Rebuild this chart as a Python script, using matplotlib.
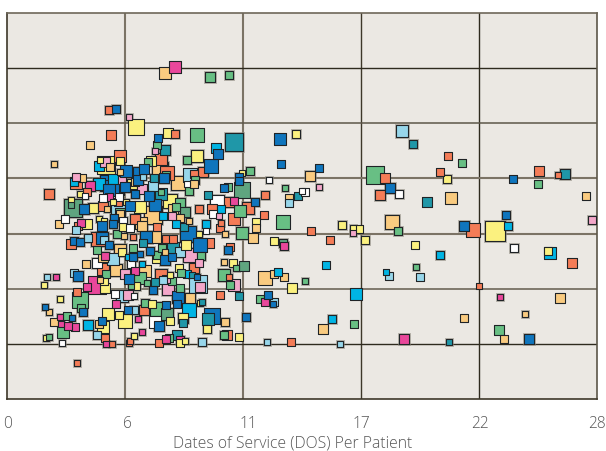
import numpy as np
import matplotlib
matplotlib.use("Agg")
import matplotlib.pyplot as plt
from matplotlib.transforms import ScaledTranslation

# x = dates of service per patient, y = position on the unlabeled axis (0-386), s = square side
coral_x = [4.84,4.94,7.97,7.31,5.36,9.30,8.88,3.27,1.99,3.80,4.56,7.59,9.11,9.73,10.54,11.44,12.25,12.20,10.77,5.27,6.07,3.37,10.16,3.04,4.32,5.98,7.12,7.55,7.88,9.59,10.58,10.11,10.54,8.88,7.31,4.56,10.11,6.50,3.32,4.65,4.98,5.79,5.84,7.21,10.44,13.48,3.32,17.94,17.70,20.55,20.93,25.25,26.15,22.12,26.82,14.43,15.33,22.40]
coral_y = [289,264,265,240,243,227,225,216,205,207,193,226,190,190,197,191,204,184,180,197,180,173,176,155,160,162,172,160,160,156,152,171,122,131,124,130,104,89,107,61,55,56,58,56,64,57,36,221,204,227,243,228,224,169,136,168,159,113]
coral_s = [8,9,8,12,11,10,8,11,10,7,9,13,8,9,10,12,8,7,11,7,10,7,6,9,14,6,7,8,7,9,7,7,6,10,12,11,7,10,7,7,6,6,6,7,9,7,6,9,10,7,7,9,6,13,9,7,7,5]

yellow_x = [6.12,7.64,13.72,9.02,4.70,5.36,4.41,6.83,11.15,5.93,3.46,3.04,4.08,7.74,6.31,5.65,5.03,4.37,4.60,3.80,11.82,5.51,8.50,9.11,12.67,5.46,7.17,10.73,8.16,7.74,13.53,9.16,8.35,7.74,9.49,6.88,5.60,5.32,4.79,6.12,6.03,8.21,8.45,4.56,4.65,4.60,1.76,2.52,1.85,11.01,23.16,20.88,25.67,16.70,16.42,16.99,15.90,19.36]
yellow_y = [272,266,265,243,234,238,239,238,226,215,205,199,191,198,192,197,197,180,178,175,177,172,154,165,158,147,142,136,131,124,111,96,81,78,70,95,78,84,85,113,63,56,58,72,111,118,114,100,61,62,168,220,148,170,171,159,174,154]
yellow_s = [15,9,8,12,17,7,5,9,5,10,6,6,10,14,11,6,6,6,5,9,7,7,9,6,7,7,11,7,7,6,9,6,10,7,8,7,13,7,11,8,6,7,6,11,9,7,6,6,6,7,20,8,7,7,6,8,8,7]

tan_x = [7.50,3.94,2.23,4.89,5.36,3.56,7.26,8.12,6.07,8.88,4.75,13.38,7.88,6.93,5.36,6.93,8.21,8.64,6.36,2.47,5.55,6.41,7.02,5.36,7.50,10.35,11.68,11.82,3.75,10.30,4.41,4.56,5.17,6.55,12.25,12.67,13.15,8.69,10.35,4.37,2.23,1.99,14.38,21.07,27.48,18.27,26.25,24.58,21.69,15.00,23.59]
tan_y = [326,254,235,232,227,221,229,216,217,215,190,201,190,192,185,184,181,178,176,175,163,173,162,149,147,165,161,171,135,137,119,142,129,128,121,125,122,101,77,75,77,87,223,201,203,177,101,85,81,70,60]
tan_s = [11,7,6,7,6,7,16,14,8,7,6,7,9,8,8,18,8,6,11,7,6,10,11,12,6,6,9,7,7,6,6,9,12,11,13,7,7,10,8,7,7,6,10,11,7,14,9,6,7,9,7]

blue_x = [5.17,7.17,12.96,10.01,4.79,5.65,9.68,13.00,11.01,11.01,10.30,6.22,6.22,6.50,7.45,6.74,6.07,4.84,3.65,11.77,5.84,5.08,5.03,3.18,3.46,4.51,4.51,4.84,6.79,8.59,9.16,10.49,5.98,7.83,9.02,3.37,5.79,6.93,8.12,8.07,9.73,7.55,5.74,7.21,4.51,3.09,1.80,3.61,11.34,12.39,12.63,6.31,14.81,18.18,24.02,23.68,21.69,24.78,4.98,7.02,6.60,7.50,5.60]
blue_y = [290,261,260,245,216,228,233,235,222,218,211,227,219,230,221,203,205,209,190,197,193,181,175,158,157,161,173,154,148,165,154,149,142,142,122,123,120,109,102,95,83,94,89,73,78,81,92,87,82,104,95,145,231,211,220,184,173,60,212,194,162,139,212]
blue_s = [8,7,11,9,16,11,13,7,8,7,7,10,10,9,10,9,8,11,10,8,9,8,8,8,8,12,9,8,8,16,13,8,8,7,6,10,9,8,12,7,15,7,7,10,7,6,6,8,8,7,6,6,7,10,7,8,10,10,13,12,12,10,10]

cyan_x = [9.92,4.37,5.03,4.37,3.18,10.16,7.40,9.44,8.02,5.74,6.41,8.54,8.64,3.84,12.86,23.78,25.77,20.55,15.14,17.99,16.56,15.43]
cyan_y = [251,233,220,215,217,190,183,175,175,142,135,125,89,74,127,173,146,144,134,127,105,80]
cyan_s = [9,9,9,12,7,7,7,8,7,6,6,7,13,10,7,8,11,8,7,5,11,8]

green_x = [9.63,10.54,9.02,7.12,8.54,6.69,11.53,8.92,13.19,10.49,7.55,8.64,7.31,8.21,8.02,11.06,13.10,5.36,5.22,4.27,5.98,7.36,7.12,9.21,11.15,4.70,8.26,10.87,10.30,10.58,7.83,8.21,6.64,6.31,5.88,7.12,6.55,12.01,14.14,10.30,7.69,2.85,2.66,1.99,3.46,3.51,17.46,21.59,25.20,18.56,19.41,16.47,23.35]
green_y = [322,324,264,254,239,237,228,219,211,212,224,208,207,196,192,188,177,186,165,149,151,151,144,143,166,125,126,131,124,114,118,111,116,121,113,90,96,100,118,64,61,83,67,62,99,91,224,236,215,168,132,75,69]
green_s = [10,8,13,7,8,7,8,8,6,7,7,8,6,10,7,11,13,9,8,7,7,7,8,8,12,7,7,6,12,7,7,7,6,11,6,14,8,7,6,8,7,7,11,6,15,8,17,7,7,8,6,7,9]

sage_x = [3.13,3.04,11.15,8.45,11.25,7.59,13.10]
sage_y = [191,194,209,187,133,85,156]
sage_s = [18,6,15,10,9,12,8]

teal_x = [10.77,7.50,6.98,9.54,7.31,8.40,6.45,7.88,8.78,7.02,11.01,9.54,9.25,8.35,8.07,13.81,19.27,19.93,26.48,20.98]
teal_y = [257,249,221,204,205,172,156,151,124,117,103,80,97,76,64,203,255,197,225,57]
teal_s = [18,10,8,7,11,8,7,11,6,7,7,11,6,7,9,7,8,9,10,6]

magenta_x = [7.97,3.94,4.84,10.77,3.51,4.65,13.15,2.33,4.27,3.80,6.07,12.25,5.17,6.22,6.41,7.55,8.21,4.70,3.23,2.90,2.52,2.56,23.40,18.84]
magenta_y = [332,213,202,198,176,143,153,122,114,112,128,97,95,80,67,60,59,55,72,73,82,75,102,60]
magenta_s = [11,10,7,7,7,8,8,6,17,7,7,7,7,6,6,7,8,6,7,7,6,6,6,10]

pink_x = [5.79,7.02,4.65,3.27,5.46,6.41,10.06,7.83,8.69,9.11,10.77,9.16,7.55,7.64,5.60,5.74,14.81,27.76,16.42]
pink_y = [282,248,237,222,219,210,183,183,144,136,114,112,120,110,125,104,212,179,166]
pink_s = [6,6,9,7,8,9,5,7,14,7,11,9,7,12,9,9,6,8,6]

sky_x = [8.69,6.45,6.93,5.27,13.38,3.27,3.84,4.60,8.21,5.03,1.90,3.18,4.27,9.06,7.40,5.46,6.03,9.25,12.34,12.67,18.74,18.13,19.60,15.80]
sky_y = [224,222,213,192,196,169,161,159,147,140,122,126,64,115,119,103,89,57,57,97,268,123,122,55]
sky_s = [13,6,9,14,7,7,8,8,10,11,6,7,8,17,7,12,8,8,6,7,12,7,7,6]

white_x = [3.70,4.56,5.32,5.32,8.54,9.97,9.78,12.43,14.00,5.51,2.75,5.84,9.44,4.27,5.88,5.13,6.03,7.02,2.61,14.14,18.60,24.06]
white_y = [203,201,209,202,215,197,185,219,208,178,180,171,168,136,135,105,103,77,56,207,205,151]
white_s = [6,7,10,7,6,14,7,6,5,8,7,7,5,10,8,7,6,11,6,7,8,8]

blue = "#0f75bd"
groups = [
    (coral_x, coral_y, coral_s, "#f47c57"),
    (yellow_x, yellow_y, yellow_s, "#fbf17f"),
    (tan_x, tan_y, tan_s, "#f9cb80"),
    (blue_x, blue_y, blue_s, blue),
    (cyan_x, cyan_y, cyan_s, "#00b4e4"),
    (green_x, green_y, green_s, "#68bf84"),
    (sage_x, sage_y, sage_s, "#5fa57f"),
    (teal_x, teal_y, teal_s, "#1f97a8"),
    (magenta_x, magenta_y, magenta_s, "#e9479b"),
    (pink_x, pink_y, pink_s, "#f3a7c9"),
    (sky_x, sky_y, sky_s, "#97d6ea"),
    (white_x, white_y, white_s, "#ffffff"),
]

tick_labels = ["0", "6", "11", "17", "22", "28"]
x_label = "Dates of Service (DOS) Per Patient"

DPI = 100
TEXT_GREY = "#555555"
fig = plt.figure(figsize=(6.06, 4.51), dpi=DPI)
ax = fig.add_axes([7 / 606, 52 / 451, 590 / 606, 386 / 451])
ax.set_facecolor("#ebe8e3")
ax.set_xlim(0, 28)
ax.set_ylim(0, 386)

# grid: some lines print heavier and greyer than others
ticks = np.linspace(0, 28, 6)
h_pos = np.linspace(0, 386, 8)[1:-1]
v_style = [("#7b7365", 1.5), ("#7b7365", 1.5), ("#3d3729", 1.0), ("#2e2a1e", 1.0)]
h_style = [("#2e2a1e", 1.0), ("#6e6759", 1.2), ("#7b7365", 1.5), ("#7b7365", 1.5), ("#5c5649", 1.1), ("#2e2a1e", 1.0)]
for v, (c, lw) in zip(ticks[1:-1], v_style):
    ax.axvline(v, color=c, lw=lw, zorder=1)
for h, (c, lw) in zip(h_pos, h_style):
    ax.axhline(h, color=c, lw=lw, zorder=1)

# biggest first so small ones stay visible; blue prints over slightly larger squares
xs, ys, sides, cols = [], [], [], []
for gx, gy, gs, col in groups:
    xs += gx
    ys += gy
    sides += gs
    cols += [col] * len(gx)
sides = np.array(sides, dtype=float)
rank = sides - 4.0 * np.array([c == blue for c in cols])
order = np.argsort(-rank, kind="stable")
xs = np.array(xs)[order]
ys = np.array(ys)[order]
sides = sides[order]
cols = [cols[i] for i in order]

area = ((sides + 0.3) * 72 / DPI) ** 2
halo = ((sides + 2.6) * 72 / DPI) ** 2
ax.scatter(xs + 0.02, ys - 0.4, s=halo, marker="s", color="#8d887e", alpha=0.55, linewidths=0, zorder=2)
ax.scatter(xs, ys, s=area, marker="s", c=cols, edgecolors="#1f2326", linewidths=0.8, zorder=3)

ax.set_yticks([])
ax.set_xticks(ticks)
ax.set_xticklabels(tick_labels, fontfamily="Open Sans", fontweight="light", fontsize=11.2, color=TEXT_GREY)
ax.tick_params(axis="x", length=0, pad=12)
# printed labels sit a little right of their gridlines
for lab, dx in zip(ax.get_xticklabels(), [1, 2, 5, 0, 1, 0]):
    lab.set_transform(lab.get_transform() + ScaledTranslation(dx / DPI, 0, fig.dpi_scale_trans))
for side, c, lw in [("left", "#3d3729", 1.2), ("bottom", "#3d3729", 1.2), ("top", "#6e6759", 1.2), ("right", "#5c5649", 1.2)]:
    ax.spines[side].set_color(c)
    ax.spines[side].set_linewidth(lw)

fig.text(293 / 606, 1 - 444 / 451, x_label, ha="center", va="center",
         fontfamily="Open Sans", fontweight="light", fontsize=11.3, color=TEXT_GREY)

fig.savefig("out.png", dpi=DPI)
